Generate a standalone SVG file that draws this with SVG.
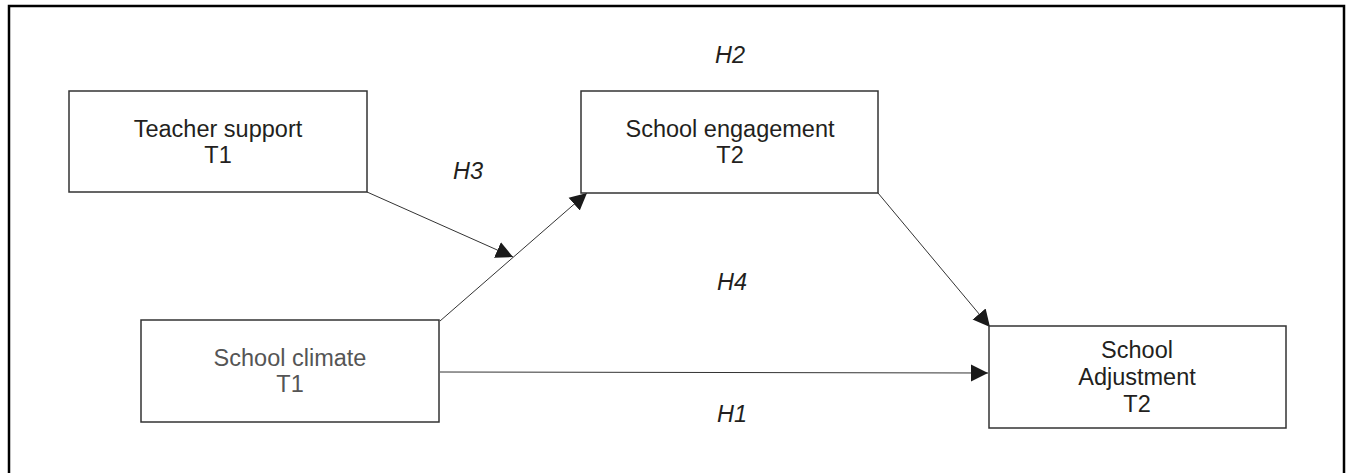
<svg xmlns="http://www.w3.org/2000/svg" width="1347" height="473" viewBox="0 0 1347 473">
  <style>
    .box { fill: #fff; stroke: #333; stroke-width: 1.5; }
    .lbl { font-family: "Liberation Sans", Arial, sans-serif; font-size: 23.5px; fill: #231f20; text-anchor: middle; }
    .gray { fill: #555; }
    .hyp { font-family: "Liberation Sans", Arial, sans-serif; font-size: 23.5px; font-style: italic; fill: #231f20; text-anchor: middle; }
    .conn { stroke: #333; stroke-width: 1; fill: none; marker-end: url(#ah); }
  </style>
  <defs>
    <marker id="ah" markerUnits="userSpaceOnUse" markerWidth="18" markerHeight="18" viewBox="0 0 18 18" refX="17" refY="9" orient="auto">
      <path d="M0,0.5 L17,9 L0,17.5 Z" fill="#1a1a1a"/>
    </marker>
  </defs>
  <rect x="0" y="0" width="1347" height="473" fill="#fff"/>
  <rect id="frame" x="9" y="6" width="1335" height="480" fill="none" stroke="#000" stroke-width="2.5"/>

  <g id="connectors">
    <line class="conn" x1="367" y1="192" x2="513" y2="257"/>
    <line class="conn" x1="440" y1="321" x2="587" y2="193"/>
    <line class="conn" x1="878" y1="193" x2="990" y2="327"/>
    <line class="conn" x1="440" y1="372" x2="988" y2="373" stroke="#777"/>
  </g>

  <g id="teacher-support">
    <rect class="box" x="69" y="91" width="298" height="101"/>
    <text class="lbl" x="218" y="137">Teacher support</text>
    <text class="lbl" x="218" y="163">T1</text>
  </g>
  <g id="school-climate">
    <rect class="box" x="141" y="320" width="298" height="102"/>
    <text class="lbl gray" x="290" y="366">School climate</text>
    <text class="lbl gray" x="290" y="392">T1</text>
  </g>
  <g id="school-engagement">
    <rect class="box" x="581" y="91" width="297" height="102"/>
    <text class="lbl" x="730" y="137">School engagement</text>
    <text class="lbl" x="730" y="163">T2</text>
  </g>
  <g id="school-adjustment">
    <rect class="box" x="989" y="326" width="297" height="102"/>
    <text class="lbl" x="1137" y="358">School</text>
    <text class="lbl" x="1137" y="385">Adjustment</text>
    <text class="lbl" x="1137" y="412">T2</text>
  </g>

  <g id="hypotheses">
    <text class="hyp" x="730" y="63">H2</text>
    <text class="hyp" x="468" y="179">H3</text>
    <text class="hyp" x="732" y="290">H4</text>
    <text class="hyp" x="732" y="422">H1</text>
  </g>
</svg>
